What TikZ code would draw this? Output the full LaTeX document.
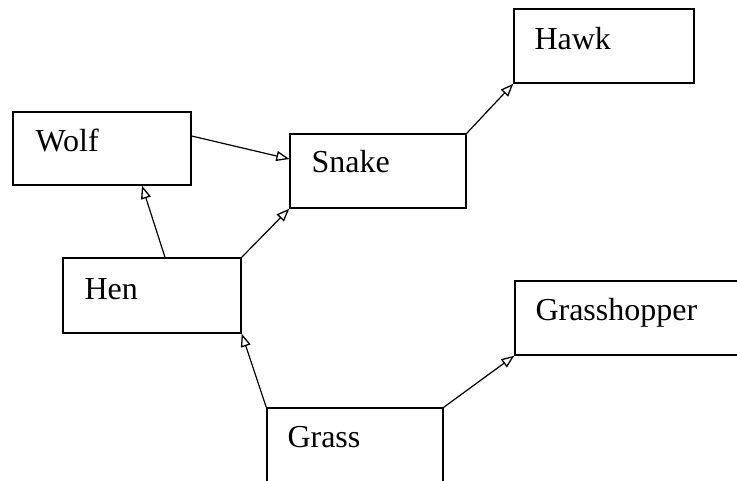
\documentclass[tikz,border=0pt]{standalone}
\usepackage{fontspec}
\setmainfont{Liberation Serif}
\newfontfamily\timesf{Liberation Serif}
\usetikzlibrary{arrows.meta}
\tikzset{
  box/.style={draw=black, line width=1.4pt, rectangle, inner sep=0pt, fill=none},
  lbl/.style={anchor=base west, inner sep=0pt, font=\timesf\fontsize{32}{38}\selectfont},
  feed/.style={draw=black, line width=1.2pt, -{Triangle[open, length=13pt, width=10pt, line width=1.3pt]}}
}
\begin{document}
\begin{tikzpicture}[x=1pt, y=-1pt]
\clip (0,0) rectangle (737,480);
\fill[white] (0,0) rectangle (737,480);
% boxes
\node[box, minimum width=178pt, minimum height=73pt] (wolf) at (102,148.5) {};
\node[box, minimum width=176pt, minimum height=74pt] (snake) at (378,171) {};
\node[box, minimum width=180pt, minimum height=74pt] (hawk) at (604,46) {};
\node[box, minimum width=178pt, minimum height=75pt] (hen) at (152,295.5) {};
\node[box, minimum width=236pt, minimum height=74pt] (grasshopper) at (633,318) {};
\node[box, minimum width=176pt, minimum height=78pt] (grass) at (355,447) {};
% labels
\node[lbl] (wolfT) at ([xshift=23pt,yshift=-40pt]wolf.north west) {Wolf};
\node[lbl] (snakeT) at ([xshift=22pt,yshift=-39pt]snake.north west) {Snake};
\node[lbl] (hawkT) at ([xshift=21pt,yshift=-41pt]hawk.north west) {Hawk};
\node[lbl] (henT) at ([xshift=22pt,yshift=-42pt]hen.north west) {Hen};
\node[lbl] (grasshopperT) at ([xshift=21pt,yshift=-40pt]grasshopper.north west) {Grasshopper};
\node[lbl] (grassT) at ([xshift=21pt,yshift=-40pt]grass.north west) {Grass};
% connectors
\draw[feed] ([yshift=12.5pt]wolf.east) -- ([yshift=12pt]snake.west);
\draw[feed] ([xshift=13pt]hen.north) -- ([xshift=40pt]wolf.south);
\draw[feed] (hen.north east) -- (snake.south west);
\draw[feed] (snake.north east) -- (hawk.south west);
\draw[feed] (grass.north west) -- (hen.south east);
\draw[feed] (grass.north east) -- (grasshopper.south west);
\end{tikzpicture}
\end{document}
